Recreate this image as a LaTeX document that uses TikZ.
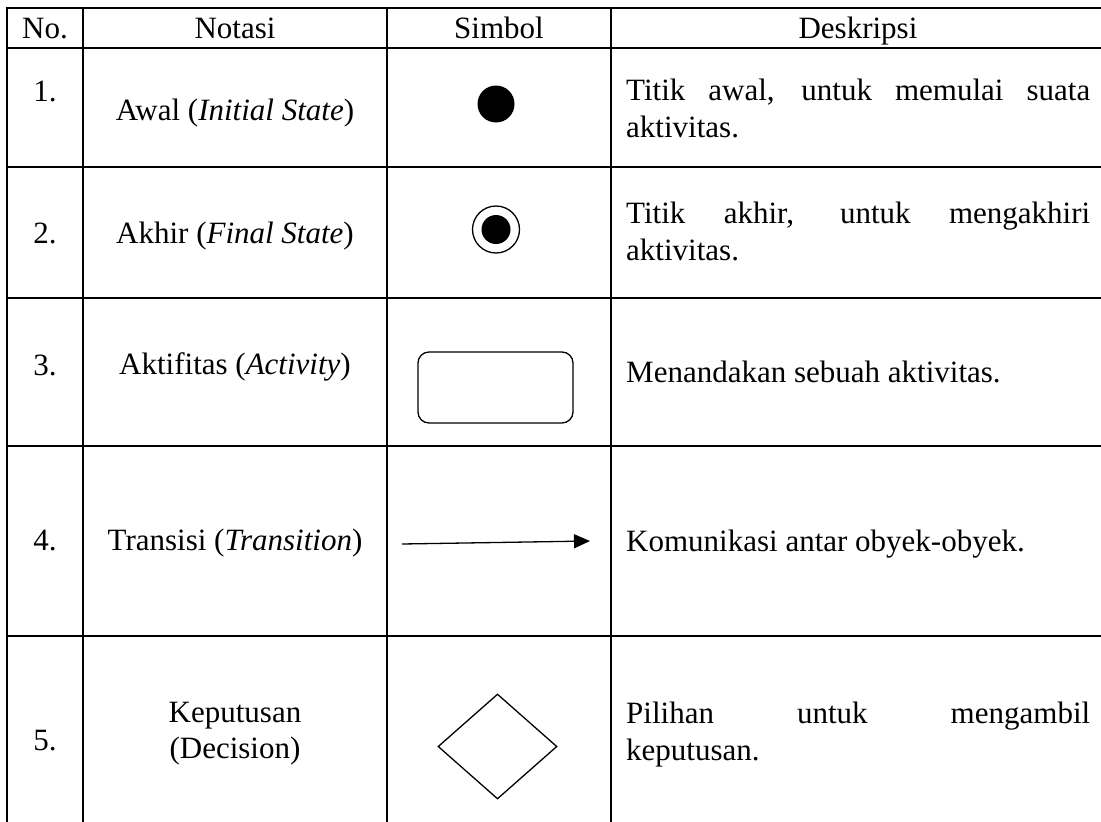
\documentclass[tikz,border=0pt]{standalone}
\usepackage{fontspec}
\setmainfont{Liberation Serif}
\usetikzlibrary{arrows.meta,shapes.geometric}
\begin{document}
\begin{tikzpicture}[x=1pt,y=-1pt,
  gridline/.style={line width=2.2pt},
  txt/.style={font=\fontsize{31}{37}\selectfont, inner sep=0pt, anchor=base},
  txtl/.style={font=\fontsize{31}{37}\selectfont, inner sep=0pt, anchor=base west},
  sym/.style={line width=1.3pt, draw=black}
]
\useasboundingbox (0,0) rectangle (1101,822);
\clip (0,0) rectangle (1101,822);
% table grid
\draw[gridline] (7,8) rectangle (1106,828);
\foreach \y in {48,167,298,446,636} \draw[gridline] (7,\y) -- (1106,\y);
\foreach \x in {83,387,611} \draw[gridline] (\x,8) -- (\x,828);
% header
\node[txt] (h1) at (45,38) {No.};
\node[txt] (h2) at (235,38) {Notasi};
\node[txt] (h3) at (499,38) {Simbol};
\node[txt] (h4) at (858,38) {Deskripsi};
% row 1
\node[txt] (n1) at (45,101) {1.};
\node[txt] (t1) at (235,120) {Awal (\textit{Initial State})};
\node[txtl] (d1a) at (626,100) {\makebox[464pt][s]{Titik awal, untuk memulai suata}};
\node[txtl] (d1b) at (626,137) {aktivitas.};
\node[circle, fill=black, inner sep=0pt, minimum size=37pt] (s1) at (496,104) {};
% row 2
\node[txt] (n2) at (45,243) {2.};
\node[txt] (t2) at (235,243) {Akhir (\textit{Final State})};
\node[txtl] (d2a) at (626,223) {\makebox[464pt][s]{Titik akhir, untuk mengakhiri}};
\node[txtl] (d2b) at (626,260) {aktivitas.};
\node[circle, sym, inner sep=0pt, minimum size=47pt] (s2) at (496,229.5) {};
\node[circle, fill=black, inner sep=0pt, minimum size=29pt] (s2in) at (496,229.5) {};
% row 3
\node[txt] (n3) at (45,375) {3.};
\node[txt] (t3) at (235,374) {Aktifitas (\textit{Activity})};
\node[txtl] (d3) at (626,382) {Menandakan sebuah aktivitas.};
\node[sym, rounded corners=11pt, minimum width=155pt, minimum height=71pt, inner sep=0pt] (s3) at (495.5,387.5) {};
% row 4
\node[txt] (n4) at (45,550) {4.};
\node[txt] (t4) at (235,550) {Transisi (\textit{Transition})};
\node[txtl] (d4) at (626,551) {Komunikasi antar obyek-obyek.};
\coordinate (s4a) at (402,544);
\coordinate (s4b) at (590,541);
\draw[line width=1.3pt, -{Triangle[length=16pt,width=14pt]}] (s4a) -- (s4b);
% row 5
\node[txt] (n5) at (45,750) {5.};
\node[txt] (t5a) at (235,722) {Keputusan};
\node[txt] (t5b) at (235,758) {(Decision)};
\node[txtl] (d5a) at (626,723) {\makebox[464pt][s]{Pilihan untuk mengambil}};
\node[txtl] (d5b) at (626,760) {keputusan.};
\node[diamond, sym, inner sep=0pt, minimum width=119pt, minimum height=105pt] (s5) at (497.5,746.5) {};
\end{tikzpicture}
\end{document}
